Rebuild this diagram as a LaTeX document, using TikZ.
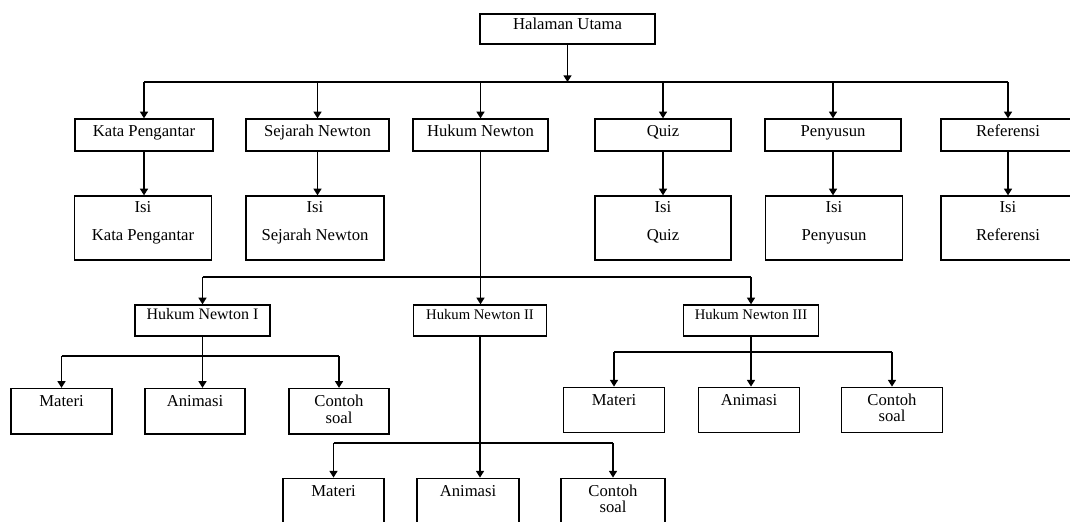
\documentclass[tikz,border=0pt]{standalone}
\usepackage{fontspec}
\setmainfont{Liberation Serif}
\usetikzlibrary{arrows.meta}
\newdimen\px \px=0.75pt
\newcommand\twolines[3]{\vtop{\baselineskip=#3\lineskiplimit=-20pt\halign{\hfil##\hfil\cr#1\cr#2\cr}}}
\tikzset{
  box/.style={draw, line width=1pt, inner sep=0pt, font=\fontsize{12.5}{15}\selectfont},
  mainbox/.style={box, text height=15.3\px, text depth=14.7\px},
  menubox/.style={box, text height=17\px, text depth=15\px},
  isibox/.style={box, text height=16\px, text depth=48\px},
  lawbox/.style={box, text height=14.3\px, text depth=16.7\px, font=\fontsize{11}{13}\selectfont},
  leafbox/.style={box, text height=18\px, text depth=27.5\px},
  conn/.style={line width=1pt},
  arr/.style={conn, -{Triangle[length=5pt,width=6pt]}},
}
\begin{document}
\begin{tikzpicture}[x=0.75pt, y=-0.75pt]
\clip (0,0) rectangle (1070,521);
\node[mainbox, minimum width=175\px](halaman) at (567.5,29){Halaman Utama};
\node[menubox, minimum width=138\px](kata) at (144,135){Kata Pengantar};
\node[menubox, minimum width=143\px](sejarah) at (317.5,135){Sejarah Newton};
\node[menubox, minimum width=135\px](hukum) at (480.5,135){Hukum Newton};
\node[menubox, minimum width=136\px](quiz) at (663,135){Quiz};
\node[menubox, minimum width=136\px](penyusun) at (833,135){Penyusun};
\node[menubox, minimum width=134\px](referensi) at (1008,135){Referensi};
\node[isibox, minimum width=137.5\px](isikata) at (143,228){\twolines{Isi}{Kata Pengantar}{21.5pt}};
\node[isibox, minimum width=138\px](isisejarah) at (315,228){\twolines{Isi}{Sejarah Newton}{21.5pt}};
\node[isibox, minimum width=136\px](isiquiz) at (663,228){\twolines{Isi}{Quiz}{21.5pt}};
\node[isibox, minimum width=137.5\px](isipenyusun) at (834,228){\twolines{Isi}{Penyusun}{21.5pt}};
\node[isibox, minimum width=134\px](isireferensi) at (1008,228){\twolines{Isi}{Referensi}{21.5pt}};
\node[lawbox, minimum width=135\px, font=\fontsize{12}{14}\selectfont](hn1) at (202.5,320.5){Hukum Newton I};
\node[lawbox, minimum width=133.5\px](hn2) at (480,320.5){Hukum Newton II};
\node[lawbox, minimum width=135\px](hn3) at (751,320.5){Hukum Newton III};
\node[leafbox, minimum width=101\px](materi1) at (61.5,411.25){Materi};
\node[leafbox, minimum width=100\px](animasi1) at (195,411.25){Animasi};
\node[leafbox, minimum width=100\px](contoh1) at (339,411.25){\twolines{Contoh}{soal}{12.4pt}};
\node[leafbox, minimum width=101\px](materi3) at (614,410){Materi};
\node[leafbox, minimum width=101\px](animasi3) at (749,410){Animasi};
\node[leafbox, minimum width=101\px](contoh3) at (892,410){\twolines{Contoh}{soal}{12.4pt}};
\node[leafbox, minimum width=101\px](materi2) at (333.5,501){Materi};
\node[leafbox, minimum width=102\px](animasi2) at (468,501){Animasi};
\node[leafbox, minimum width=104\px](contoh2) at (613,501){\twolines{Contoh}{soal}{12.4pt}};
% bus lines
\coordinate (b1) at (0,82);
\coordinate (b2) at (0,277);
\coordinate (b3) at (0,356);
\coordinate (b4) at (0,352);
\coordinate (b5) at (0,443);
\draw[arr] (halaman) -- (halaman |- b1);
\draw[conn] (kata |- b1) -- (referensi |- b1);
\foreach \n/\m in {kata/isikata,sejarah/isisejarah,quiz/isiquiz,penyusun/isipenyusun,referensi/isireferensi}{
  \draw[arr] (\n |- b1) -- (\n);
  \draw[arr] (\n) -- (\n |- \m.north);
}
\draw[arr] (hukum |- b1) -- (hukum);
\draw[arr] (hukum) -- (hukum |- hn2.north);
\draw[conn] (hn1 |- b2) -- (hn3 |- b2);
\draw[arr] (hn1 |- b2) -- (hn1);
\draw[arr] (hn3 |- b2) -- (hn3);
% Hukum Newton I, II, III
\draw[arr] (hn1) -- (hn1 |- animasi1.north);
\draw[conn] (materi1 |- b3) -- (contoh1 |- b3);
\draw[arr] (materi1 |- b3) -- (materi1);
\draw[arr] (contoh1 |- b3) -- (contoh1);
\draw[arr] (hn3) -- (hn3 |- animasi3.north);
\draw[conn] (materi3 |- b4) -- (contoh3 |- b4);
\draw[arr] (materi3 |- b4) -- (materi3);
\draw[arr] (contoh3 |- b4) -- (contoh3);
\draw[arr] (hn2) -- (hn2 |- animasi2.north);
\draw[conn] (materi2 |- b5) -- (contoh2 |- b5);
\draw[arr] (materi2 |- b5) -- (materi2);
\draw[arr] (contoh2 |- b5) -- (contoh2);
\end{tikzpicture}
\end{document}
